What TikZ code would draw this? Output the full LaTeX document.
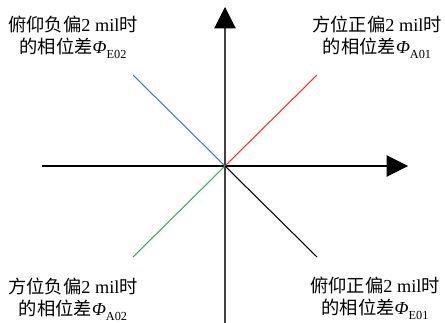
\documentclass[tikz,border=0pt]{standalone}
\usepackage{fontspec}
\setmainfont{Liberation Serif}
\newfontfamily\cjk{Noto Sans CJK SC}
\usepackage{xcolor}
\usetikzlibrary{arrows.meta}

\definecolor{lineblue}{RGB}{60,120,200}
\definecolor{linered}{RGB}{235,50,45}
\definecolor{linegreen}{RGB}{55,175,85}

\newcommand{\phase}[1]{\textit{Φ}\raisebox{-0.6ex}{\fontsize{7pt}{8pt}\selectfont #1}}

\begin{document}
\begin{tikzpicture}[
    x=0.02cm, y=-0.02cm,
    font=\fontsize{10.4pt}{12.5pt}\selectfont,
    axis/.style={
        -{Triangle[length=4.3mm, width=4.3mm, color=black]},
        line width=0.6pt
    },
    ray/.style={
        line width=0.6pt
    },
    caption/.style={
        align=center,
        anchor=north,
        inner sep=0pt
    }
]
\useasboundingbox (0,0) rectangle (445,323);

% axes
\coordinate (O) at (225,166);
\coordinate (xl) at (42,166);
\coordinate (xr) at (408,166);
\coordinate (yb) at (225,323);
\coordinate (yt) at (225,7);
\draw[axis] (xl) -- (xr);
\draw[axis, black!75] (yb) -- (yt);

% rays
\coordinate (a01) at (317,75);
\coordinate (e02) at (133,75);
\coordinate (a02) at (133,257);
\coordinate (e01) at (317,257);
\draw[ray, linered] (O) -- (a01);
\draw[ray, lineblue] (O) -- (e02);
\draw[ray, linegreen] (O) -- (a02);
\draw[ray] (O) -- (e01);

% captions
\node[caption] (te02) at (73,16) {{\cjk 俯仰负偏}2 mil{\cjk 时}\\{\cjk 的相位差}\phase{E02}};
\node[caption] (ta01) at (377,16) {{\cjk 方位正偏}2 mil{\cjk 时}\\{\cjk 的相位差}\phase{A01}};
\node[caption] (ta02) at (73,278) {{\cjk 方位负偏}2 mil{\cjk 时}\\{\cjk 的相位差}\phase{A02}};
\node[caption] (te01) at (375,277) {{\cjk 俯仰正偏}2 mil{\cjk 时}\\{\cjk 的相位差}\phase{E01}};

\end{tikzpicture}
\end{document}
